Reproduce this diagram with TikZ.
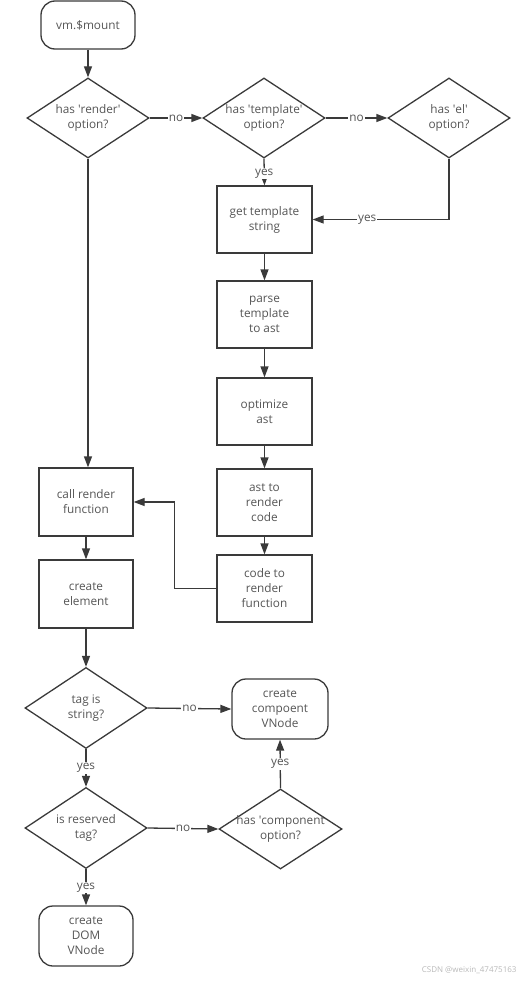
\documentclass[tikz,border=0pt]{standalone}
\usepackage{fontspec}
\setmainfont{Open Sans}
\usetikzlibrary{shapes.geometric,arrows.meta}
\definecolor{ln}{HTML}{3A3A3A}
\definecolor{tx}{HTML}{555555}
\newcommand{\dtxt}[2]{\makebox[0pt]{\begin{tabular}{c}#1\\#2\end{tabular}}}
\newcommand{\q}{\textquotesingle}
\begin{document}
\begin{tikzpicture}[x=1pt,y=-1pt,
  every node/.style={text=tx,font=\fontsize{11.8}{15}\selectfont},
  box/.style={draw=ln,line width=1.3pt,rectangle,minimum width=95pt,minimum height=67pt,align=center,inner sep=2pt},
  term/.style={draw=ln,line width=1.3pt,rectangle,rounded corners=14pt,minimum width=95pt,minimum height=60pt,align=center,inner sep=2pt},
  dec/.style={draw=ln,line width=1.3pt,diamond,minimum width=122pt,minimum height=80pt,inner sep=0pt},
  flow/.style={draw=ln,line width=1.3pt,-{Triangle[length=11pt,width=8pt]}},
  lab/.style={fill=white,inner sep=1pt}]
\useasboundingbox (0,0) rectangle (529,982);
\node[term,minimum width=94pt,minimum height=48pt] (mount) at (88,25) {vm.\$mount};
\node[dec] (d1) at (88,118) {\dtxt{has \q render\q}{option?}};
\node[dec] (d2) at (264,118) {\dtxt{has \q template\q}{option?}};
\node[dec] (d3) at (449,118) {\dtxt{has \q el\q}{option?}};
\node[box] (gts) at (264.5,219.5) {get template\\string};
\node[box] (parse) at (264.5,314.5) {parse\\template\\to ast};
\node[box] (opt) at (264.5,411.5) {optimize\\ast};
\node[box] (ast) at (264.5,502.5) {ast to\\render\\code};
\node[box] (code) at (264.5,588.5) {code to\\render\\function};
\node[box,minimum width=94pt,minimum height=68pt] (call) at (86,502) {call render\\function};
\node[box,minimum width=94pt,minimum height=68pt] (elem) at (86,594) {create\\element};
\node[dec,minimum height=81pt] (d4) at (86,708) {\dtxt{tag is}{string?}};
\node[term,minimum width=96pt] (comp) at (280,709) {create\\compoent\\VNode};
\node[dec,minimum height=81pt] (d5) at (86,828) {\dtxt{is reserved}{tag?}};
\node[dec,minimum width=123pt] (d6) at (280.5,829) {\dtxt{has \q component}{option?}};
\node[term,minimum width=94pt] (dom) at (86,936) {create\\DOM\\VNode};
\node[text=gray!55,font=\fontsize{8}{10}\selectfont,anchor=east] (wm) at (520,970) {CSDN @weixin\_47475163};

\draw[flow] (mount) -- (d1);
\draw[flow] (d1.east) -- node[lab] {no} (d2.west);
\draw[flow] (d2.east) -- node[lab] {no} (d3.west);
\draw[flow] (d2.south) -- node[lab,pos=0.55] {yes} (gts.north);
\draw[flow] (d3.south) |- node[lab,pos=0.8] {yes} (gts.east);
\draw[flow] (gts) -- (parse);
\draw[flow] (parse) -- (opt);
\draw[flow] (opt) -- (ast);
\draw[flow] (ast) -- (code);
\draw[flow] (d1.south) -- (d1.south |- call.north);
\draw[flow] (code.west) -- ++(-42,0) |- (call.east);
\draw[flow] (call) -- (elem);
\draw[flow] (elem.south) -- (d4.north);
\draw[flow] (d4.east) -- node[lab,pos=0.5] {no} (comp.west);
\draw[flow] (d4.south) -- node[lab] {yes} (d5.north);
\draw[flow] (d5.east) -- node[lab] {no} (d6.west);
\draw[flow] (d6.north) -- node[lab] {yes} (comp.south);
\draw[flow] (d5.south) -- node[lab] {yes} (dom.north);
\end{tikzpicture}
\end{document}
